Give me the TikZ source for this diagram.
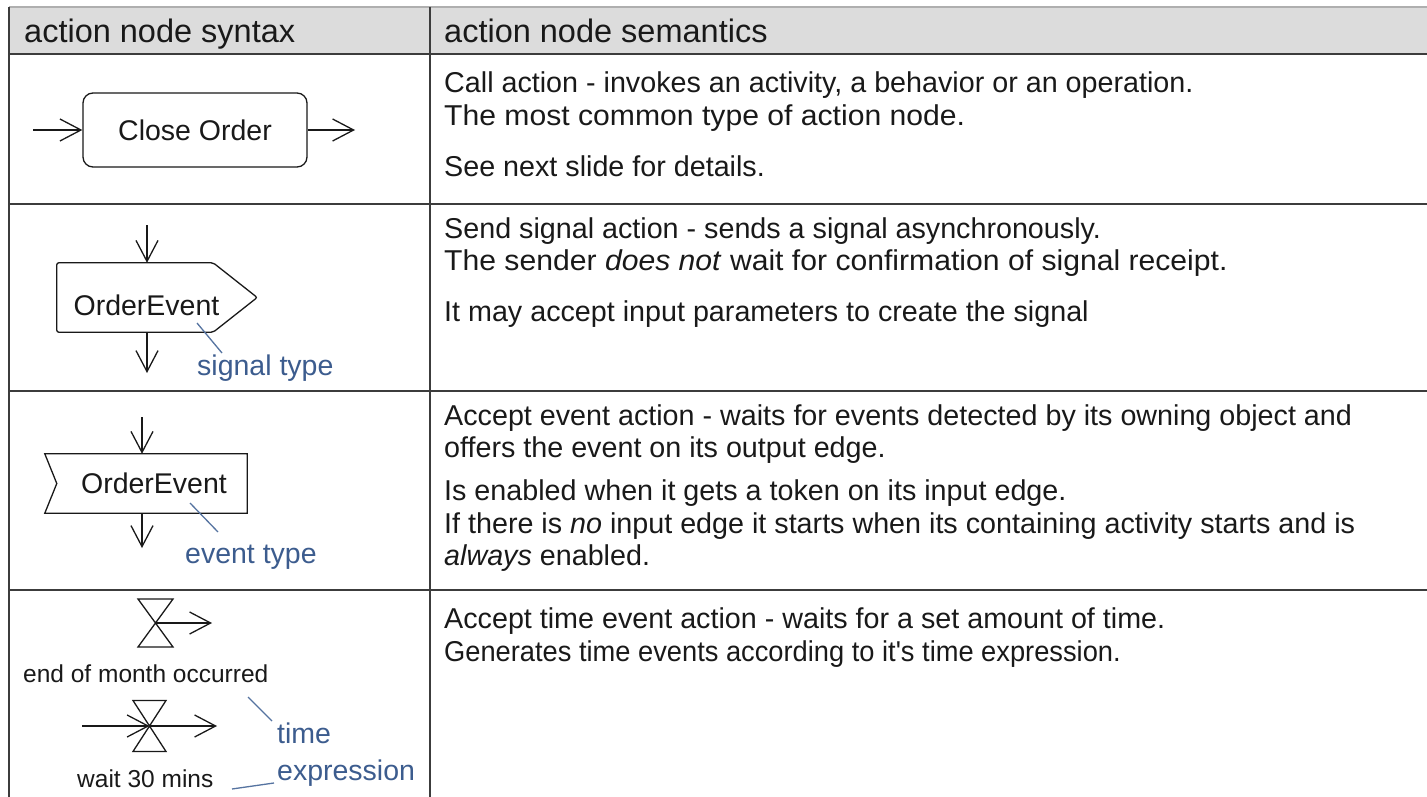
\documentclass[tikz,border=0pt]{standalone}
\usepackage{fontspec}
\setmainfont{Liberation Sans}
\usetikzlibrary{arrows.meta,calc}

\definecolor{ink}{RGB}{25,25,25}
\definecolor{rulecol}{RGB}{60,60,60}
\definecolor{headfill}{RGB}{220,220,220}
\definecolor{headtop}{RGB}{175,175,175}
\definecolor{note}{RGB}{60,92,142}
\definecolor{noteline}{RGB}{85,115,160}

\tikzset{
  flow/.style={draw=ink, line width=1.3pt, -{Straight Barb[length=21pt,width=22pt]}},
  outline/.style={draw=ink, line width=1.3pt},
  tablerule/.style={draw=rulecol, line width=2.4pt},
  headtext/.style={anchor=base west, inner sep=0pt, text=ink, font=\fontsize{32.5}{38}\selectfont},
  body/.style={anchor=base west, inner sep=0pt, text=ink, font=\fontsize{28.7}{33}\selectfont},
  label/.style={inner sep=0pt, text=ink, font=\fontsize{28.5}{33}\selectfont},
  small/.style={anchor=base west, inner sep=0pt, text=ink, font=\fontsize{24.5}{29}\selectfont},
  notetext/.style={anchor=base west, inner sep=0pt, text=note, font=\fontsize{28.5}{33}\selectfont},
  callout/.style={draw=noteline, line width=1.3pt},
}

\begin{document}
\begin{tikzpicture}[x=1pt,y=-1pt]
\useasboundingbox (0,0) rectangle (1427,797);

% ---------- table frame ----------
\fill[headfill] (9,7) rectangle (1427,54);
\draw[headtop, line width=1.5pt] (9,7) -- (1427,7);
\draw[tablerule] (9,7) -- (9,797);
\draw[tablerule] (430,7) -- (430,797);
\foreach \yy in {54,204,391,590} \draw[tablerule] (9,\yy) -- (1427,\yy);

\node[headtext] (hsyn) at (24,43) {action node syntax};
\node[headtext] (hsem) at (444,43) {action node semantics};

% ---------- row 1: call action ----------
\node[outline, rounded corners=10pt, minimum width=224pt, minimum height=74pt,
      inner sep=0pt, font=\fontsize{28.5}{33}\selectfont, text=ink] (close) at (195,130) {Close Order};
\coordinate (closein) at (33,130);
\coordinate (closeout) at (355,130);
\draw[flow] (closein) -- (close.west);
\draw[flow] (close.east) -- (closeout);

\node[body] (r1a) at (444,93)  {Call action - invokes an activity, a behavior or an operation.};
\node[body] (r1b) at (444,126) {\scalebox{1.05}[1]{The most common type of action node.}};
\node[body] (r1c) at (444,176) {See next slide for details.};

% ---------- row 2: send signal action ----------
\node[minimum width=156pt, minimum height=69pt, inner sep=0pt] (sig) at (135,297.5) {};
\draw[outline, rounded corners=2pt] (sig.north west) -- (sig.north east)
      -- ($(sig.east)+(44,0)$) -- (sig.south east) -- (sig.south west) -- cycle;
\node[label, anchor=base] (sigtxt) at (146.5,315) {OrderEvent};
\coordinate (sigin) at (147,225);
\coordinate (sigout) at (147,373);
\draw[flow] (sigin) -- (sigin |- sig.north);
\draw[flow] (sigout |- sig.south) -- (sigout);
\node[notetext] (sigtype) at (197,375) {signal type};
\coordinate (sigtip) at (197,323);
\draw[callout] (sigtip) -- (222,353);

\node[body] (r2a) at (444,238) {Send signal action - sends a signal asynchronously.};
\node[body] (r2b) at (444,270) {\scalebox{1.05}[1]{The sender \textit{does not} wait for confirmation of signal receipt.}};
\node[body] (r2c) at (444,321) {It may accept input parameters to create the signal};

% ---------- row 3: accept event action ----------
\node[minimum width=202pt, minimum height=59pt, inner sep=0pt] (acc) at (146,483.5) {};
\draw[outline] (acc.north west) -- (acc.north east) -- (acc.south east)
      -- (acc.south west) -- ($(acc.west)+(12,0)$) -- cycle;
\node[label, anchor=base] (acctxt) at (154,493) {OrderEvent};
\coordinate (accin) at (142,417);
\coordinate (accout) at (142,548);
\draw[flow] (accin) -- (accin |- acc.north);
\draw[flow] (accout |- acc.south) -- (accout);
\node[notetext] (evtype) at (185,563) {event type};
\coordinate (acctip) at (190,503);
\draw[callout] (acctip) -- (218,532);

\node[body] (r3a) at (444,425) {Accept event action - waits for events detected by its owning object and};
\node[body] (r3b) at (444,457) {offers the event on its output edge.};
\node[body] (r3c) at (444,500) {Is enabled when it gets a token on its input edge.};
\node[body] (r3d) at (444,533) {If there is \textit{no} input edge it starts when its containing activity starts and is};
\node[body] (r3e) at (444,565) {\textit{always} enabled.};

% ---------- row 4: accept time event action ----------
\coordinate (tm1) at (155.5,623);
\draw[outline, line join=miter] ($(tm1)+(-17.5,-24)$) -- ($(tm1)+(17.5,-24)$)
      -- ($(tm1)+(-17.5,24)$) -- ($(tm1)+(17.5,24)$) -- cycle;
\coordinate (tm1out) at (212,623);
\draw[flow] (tm1) -- (tm1out);
\node[small] (eom) at (23,682) {end of month occurred};

\coordinate (tm2) at (149.5,726);
\draw[outline, line join=miter] ($(tm2)+(-16.5,-25.5)$) -- ($(tm2)+(16.5,-25.5)$)
      -- ($(tm2)+(-16.5,25.5)$) -- ($(tm2)+(16.5,25.5)$) -- cycle;
\coordinate (tm2in) at (82,726);
\coordinate (tm2out) at (217,726);
\draw[flow] (tm2in) -- (tm2);
\draw[flow] (tm2) -- (tm2out);
\node[small] (w30) at (77,787) {wait 30 mins};

\node[notetext] (ttime) at (277,743) {time};
\node[notetext] (texpr) at (277,780) {expression};
\coordinate (eomtip) at (248,697);
\draw[callout] (eomtip) -- (272,721);
\coordinate (w30tip) at (232,789);
\draw[callout] (w30tip) -- (274,783);

\node[body] (r4a) at (444,628) {Accept time event action - waits for a set amount of time.};
\node[body] (r4b) at (444,661) {\scalebox{0.95}[1]{Generates time events according to it\textquotesingle s time expression.}};
\end{tikzpicture}
\end{document}
